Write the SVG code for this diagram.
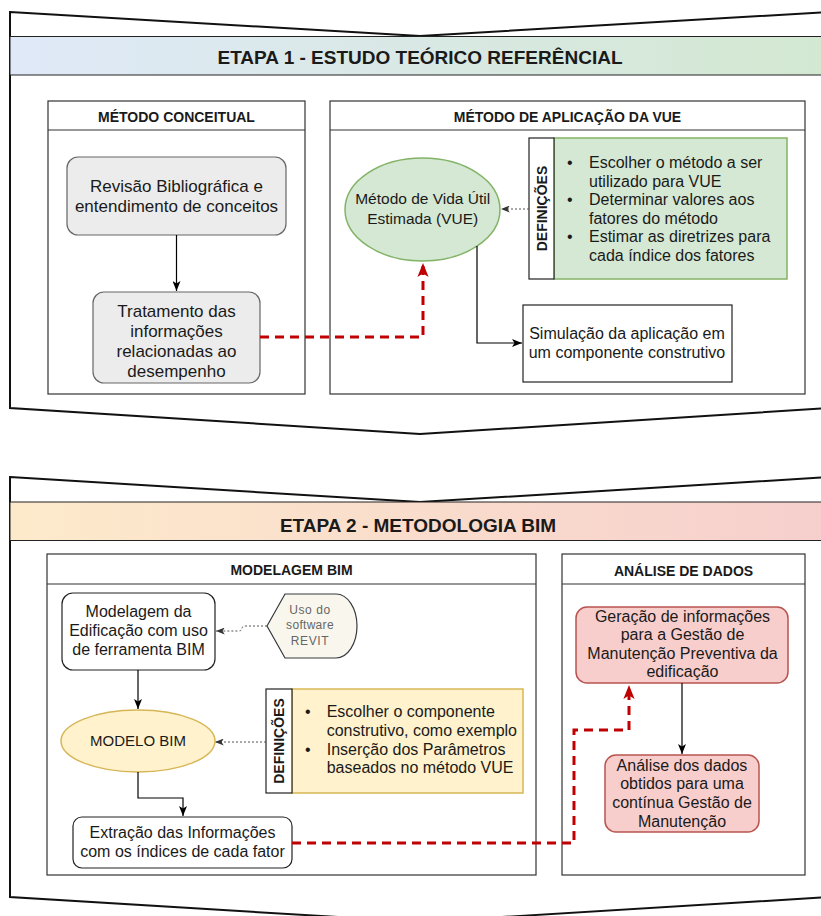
<svg xmlns="http://www.w3.org/2000/svg" width="821" height="916" viewBox="0 0 821 916">
<defs>
<linearGradient id="g1" x1="0" y1="0" x2="1" y2="0"><stop offset="0" stop-color="#dfe9f8"/><stop offset="1" stop-color="#d3e8d1"/></linearGradient>
<linearGradient id="g2" x1="0" y1="0" x2="1" y2="0"><stop offset="0" stop-color="#fdeacb"/><stop offset="1" stop-color="#f6cfcd"/></linearGradient>
<marker id="ab" viewBox="0 0 10 8" refX="10" refY="4" markerWidth="10" markerHeight="8" orient="auto" markerUnits="userSpaceOnUse"><path d="M0,0 L10,4 L0,8 L2.5,4 Z" fill="#000"/></marker>
<marker id="ad" viewBox="0 0 10 8" refX="10" refY="4" markerWidth="9" markerHeight="7" orient="auto" markerUnits="userSpaceOnUse"><path d="M0,0 L10,4 L0,8 L2.5,4 Z" fill="#333"/></marker>
<marker id="ar" viewBox="0 0 10 8" refX="10" refY="4" markerWidth="14" markerHeight="12" orient="auto" markerUnits="userSpaceOnUse"><path d="M0,0 L10,4 L0,8 L2.5,4 Z" fill="#c00000"/></marker>
</defs>
<style>
text{font-family:"Liberation Sans",Arial,sans-serif;fill:#1a1a1a}
.et{font-size:19px;font-weight:bold;text-anchor:middle}
.h{font-size:14px;font-weight:bold;text-anchor:middle}
.t{font-size:16px;text-anchor:middle}
.t17{font-size:17px;text-anchor:middle}
.b{font-size:16px}
.frame{fill:#fff;stroke:#111;stroke-width:2}
.band{stroke:#222;stroke-width:1}
.cont{fill:#fff;stroke:#333;stroke-width:1.2}
.gray{fill:#ececec;stroke:#666;stroke-width:1.2}
.wbox{fill:#fff;stroke:#222;stroke-width:1.2}
.green{fill:#d5e8d4;stroke:#82b366;stroke-width:1.5}
.yel{fill:#fff2cc;stroke:#d6b656;stroke-width:1.5}
.red{fill:#f8cecc;stroke:#b85450;stroke-width:1.5}
.strip{fill:#fff;stroke:#222;stroke-width:1.2}
.def{font-size:14px;font-weight:bold;text-anchor:middle}
.c{fill:none;stroke:#000;stroke-width:1.2}
.cd{fill:none;stroke:#555;stroke-width:1;stroke-dasharray:2 2}
.cr{fill:none;stroke:#c00000;stroke-width:3;stroke-dasharray:9 6}
</style>

<g id="etapa1">
<path class="frame" d="M10,12 L420,36 L830,12 L830,408 L420,434 L10,408 Z"/>
<rect class="band" x="10" y="36.5" width="820" height="38.5" fill="url(#g1)"/>
<text class="et" x="420" y="63.5">ETAPA 1 - ESTUDO TEÓRICO REFERÊNCIAL</text>
</g>

<g id="etapa2">
<path class="frame" d="M10,477 L420,502 L830,477 L830,897 L420,922 L10,897 Z"/>
<rect class="band" x="10" y="502" width="820" height="38.5" fill="url(#g2)"/>
<text class="et" x="418" y="531.5">ETAPA 2 - METODOLOGIA BIM</text>
</g>

<g id="metodo-conceitual">
<rect class="cont" x="48" y="101" width="257" height="293"/>
<line x1="48" y1="130" x2="305" y2="130" stroke="#333" stroke-width="1.2"/>
<text class="h" x="176.5" y="122">MÉTODO CONCEITUAL</text>
</g>

<g id="metodo-aplicacao">
<rect class="cont" x="330" y="101" width="475" height="293"/>
<line x1="330" y1="130" x2="805" y2="130" stroke="#333" stroke-width="1.2"/>
<text class="h" x="567.5" y="122">MÉTODO DE APLICAÇÃO DA VUE</text>
</g>

<g id="modelagem-bim">
<rect class="cont" x="47" y="554" width="489" height="321"/>
<line x1="47" y1="584" x2="536" y2="584" stroke="#333" stroke-width="1.2"/>
<text class="h" x="291.5" y="575">MODELAGEM BIM</text>
</g>

<g id="analise-dados">
<rect class="cont" x="562" y="554" width="243" height="321"/>
<line x1="562" y1="584" x2="805" y2="584" stroke="#333" stroke-width="1.2"/>
<text class="h" x="683.5" y="576">ANÁLISE DE DADOS</text>
</g>

<g id="revisao">
<rect class="gray" x="67" y="157" width="219" height="78" rx="11"/>
<text class="t17" x="176.5" y="191.7">Revisão Bibliográfica e</text>
<text class="t17" x="176.5" y="211.7">entendimento de conceitos</text>
</g>

<g id="tratamento">
<rect class="gray" x="93" y="292" width="167" height="91" rx="11"/>
<text class="t17" x="176.5" y="316.7">Tratamento das</text>
<text class="t17" x="176.5" y="336.7">informações</text>
<text class="t17" x="176.5" y="356.7">relacionadas ao</text>
<text class="t17" x="176.5" y="376.7">desempenho</text>
</g>

<g id="vue">
<ellipse class="green" cx="422.5" cy="209.5" rx="77.5" ry="51.5"/>
<text class="t" x="422.7" y="204.3" style="font-size:15.5px">Método de Vida Útil</text>
<text class="t" x="422.7" y="224" style="font-size:15.5px">Estimada (VUE)</text>
</g>

<g id="definicoes1">
<rect class="green" x="554" y="138" width="233" height="141"/>
<rect class="strip" x="529" y="138" width="25" height="141"/>
<text class="def" transform="translate(547,208.5) rotate(-90)">DEFINIÇÕES</text>
<text class="b" x="567" y="167.7">•</text>
<text class="b" x="589" y="167.7">Escolher o método a ser</text>
<text class="b" x="589" y="186.5">utilizado para VUE</text>
<text class="b" x="567" y="205">•</text>
<text class="b" x="589" y="205">Determinar valores aos</text>
<text class="b" x="589" y="223.7">fatores do método</text>
<text class="b" x="567" y="242.3">•</text>
<text class="b" x="589" y="242.3">Estimar as diretrizes para</text>
<text class="b" x="589" y="260.5">cada índice dos fatores</text>
</g>

<g id="simulacao">
<rect class="wbox" x="523" y="305" width="209" height="77"/>
<text class="t" x="627" y="339">Simulação da aplicação em</text>
<text class="t" x="627" y="358">um componente construtivo</text>
</g>

<g id="modelagem-edificacao">
<rect class="wbox" x="62" y="593" width="153" height="77" rx="11"/>
<text class="t" x="138.5" y="616.7">Modelagem da</text>
<text class="t" x="138.5" y="636">Edificação com uso</text>
<text class="t" x="138.5" y="655">de ferramenta BIM</text>
</g>

<g id="revit">
<path d="M267,626 L285,594 L336,594 A21,32 0 0 1 336,658 L285,658 Z" fill="#f9f7ed" stroke="#36393d" stroke-width="1.2"/>
<text x="310" y="614.3" style="font-size:12px;text-anchor:middle;fill:#666;letter-spacing:0.6px">Uso do</text>
<text x="310" y="629.3" style="font-size:12px;text-anchor:middle;fill:#666;letter-spacing:0.3px">software</text>
<text x="310" y="645" style="font-size:12px;text-anchor:middle;fill:#666;letter-spacing:0.6px">REVIT</text>
</g>

<g id="modelo-bim">
<ellipse class="yel" cx="138" cy="741" rx="77" ry="31"/>
<text class="t" x="138" y="746" style="font-size:15px">MODELO BIM</text>
</g>

<g id="definicoes2">
<rect class="yel" x="292" y="689" width="231" height="104"/>
<rect class="strip" x="266" y="689" width="26" height="104"/>
<text class="def" transform="translate(284,741) rotate(-90)">DEFINIÇÕES</text>
<text class="b" x="305" y="716.7">•</text>
<text class="b" x="326.7" y="716.7">Escolher o componente</text>
<text class="b" x="326.7" y="736">construtivo, como exemplo</text>
<text class="b" x="305" y="755">•</text>
<text class="b" x="326.7" y="755">Inserção dos Parâmetros</text>
<text class="b" x="326.7" y="773.3">baseados no método VUE</text>
</g>

<g id="extracao">
<rect class="wbox" x="73" y="817" width="219" height="51" rx="9"/>
<text class="t" x="182.5" y="838.3">Extração das Informações</text>
<text class="t" x="182.5" y="856.7">com os índices de cada fator</text>
</g>

<g id="geracao">
<rect class="red" x="576" y="607" width="212" height="76" rx="11"/>
<text class="t" x="682.5" y="621.7">Geração de informações</text>
<text class="t" x="682.5" y="640">para a Gestão de</text>
<text class="t" x="682.5" y="659.3">Manutenção Preventiva da</text>
<text class="t" x="682.5" y="676.7">edificação</text>
</g>

<g id="analise">
<rect class="red" x="605" y="755" width="154" height="77" rx="11"/>
<text class="t" x="682" y="771">Análise dos dados</text>
<text class="t" x="682" y="789.3">obtidos para uma</text>
<text class="t" x="682" y="808.3">contínua Gestão de</text>
<text class="t" x="682" y="826.7">Manutenção</text>
</g>

<g id="connectors">
<path class="c" d="M176.5,235 L176.5,291" marker-end="url(#ab)"/>
<path class="cr" d="M260,337 L423,337 L423,263" marker-end="url(#ar)"/>
<path class="cd" d="M529,209 L501,209" marker-end="url(#ad)"/>
<path class="c" d="M477,246 L477,343 L522,343" marker-end="url(#ab)"/>
<path class="cd" d="M267,626 L246,626 Q242,626 242,628.5 Q242,631 238,631 L216,631" marker-end="url(#ad)"/>
<path class="c" d="M138,670 L138,709" marker-end="url(#ab)"/>
<path class="cd" d="M266,742 L215,742" marker-end="url(#ad)"/>
<path class="c" d="M138,772 L138,798 L183,798 L183,816" marker-end="url(#ab)"/>
<path class="cr" d="M292,843 L574,843 L574,730 L629,730 L629,685" marker-end="url(#ar)"/>
<path class="c" d="M682,683 L682,754" marker-end="url(#ab)"/>
</g>
</svg>
